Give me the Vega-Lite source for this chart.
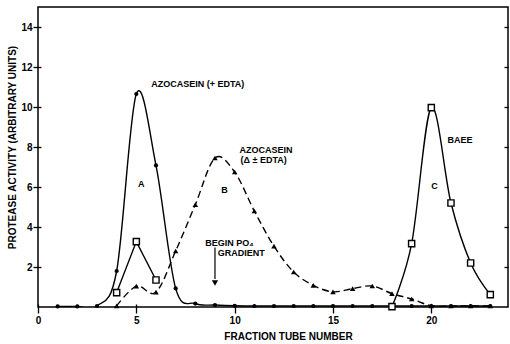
{
  "$schema": "https://vega.github.io/schema/vega-lite/v6.json",
  "width": 470,
  "height": 300,
  "autosize": {"type": "none"},
  "padding": {"left": 38, "top": 7, "right": 2, "bottom": 37},
  "background": "white",
  "config": {
    "view": {"stroke": "#000", "strokeWidth": 1.5},
    "font": "Liberation Sans"
  },
  "datasets": {
    "curves": [
      {"series": "A", "peak": "A", "tube": 1, "activity": 0.03},
      {"series": "A", "peak": "A", "tube": 2, "activity": 0.03},
      {"series": "A", "peak": "A", "tube": 3, "activity": 0.05},
      {"series": "A", "peak": "A", "tube": 4, "activity": 1.8},
      {"series": "A", "peak": "A", "tube": 5, "activity": 10.65},
      {"series": "A", "peak": "A", "tube": 6, "activity": 7.08},
      {"series": "A", "peak": "A", "tube": 7, "activity": 0.93},
      {"series": "A", "peak": "A", "tube": 8, "activity": 0.17},
      {"series": "A", "peak": "A", "tube": 9, "activity": 0.1},
      {"series": "A", "peak": "A", "tube": 10, "activity": 0.06},
      {"series": "A", "peak": "A", "tube": 11, "activity": 0.05},
      {"series": "A", "peak": "A", "tube": 12, "activity": 0.05},
      {"series": "A", "peak": "A", "tube": 13, "activity": 0.05},
      {"series": "A", "peak": "A", "tube": 14, "activity": 0.05},
      {"series": "A", "peak": "A", "tube": 15, "activity": 0.05},
      {"series": "A", "peak": "A", "tube": 16, "activity": 0.05},
      {"series": "A", "peak": "A", "tube": 17, "activity": 0.05},
      {"series": "A", "peak": "A", "tube": 18, "activity": 0.05},
      {"series": "A", "peak": "A", "tube": 19, "activity": 0.05},
      {"series": "A", "peak": "A", "tube": 20, "activity": 0.05},
      {"series": "A", "peak": "A", "tube": 21, "activity": 0.05},
      {"series": "A", "peak": "A", "tube": 22, "activity": 0.05},
      {"series": "A", "peak": "A", "tube": 23, "activity": 0.05},
      {"series": "B", "peak": "B", "tube": 4, "activity": 0.06},
      {"series": "B", "peak": "B", "tube": 5, "activity": 1.04},
      {"series": "B", "peak": "B", "tube": 6, "activity": 0.74},
      {"series": "B", "peak": "B", "tube": 7, "activity": 2.8},
      {"series": "B", "peak": "B", "tube": 8, "activity": 5.12},
      {"series": "B", "peak": "B", "tube": 9, "activity": 7.45},
      {"series": "B", "peak": "B", "tube": 10, "activity": 6.75},
      {"series": "B", "peak": "B", "tube": 11, "activity": 4.8},
      {"series": "B", "peak": "B", "tube": 12, "activity": 3.04},
      {"series": "B", "peak": "B", "tube": 13, "activity": 1.75},
      {"series": "B", "peak": "B", "tube": 14, "activity": 1.08},
      {"series": "B", "peak": "B", "tube": 15, "activity": 0.76},
      {"series": "B", "peak": "B", "tube": 16, "activity": 0.92},
      {"series": "B", "peak": "B", "tube": 17, "activity": 1.05},
      {"series": "B", "peak": "B", "tube": 18, "activity": 0.67},
      {"series": "B", "peak": "B", "tube": 19, "activity": 0.4},
      {"series": "B", "peak": "B", "tube": 20, "activity": 0.06},
      {"series": "B", "peak": "B", "tube": 21, "activity": 0.05},
      {"series": "B", "peak": "B", "tube": 22, "activity": 0.05},
      {"series": "B", "peak": "B", "tube": 23, "activity": 0.05},
      {"series": "C", "peak": "first", "tube": 4, "activity": 0.72},
      {"series": "C", "peak": "first", "tube": 5, "activity": 3.27},
      {"series": "C", "peak": "first", "tube": 6, "activity": 1.35},
      {"series": "C", "peak": "second", "tube": 18, "activity": 0.02},
      {"series": "C", "peak": "second", "tube": 19, "activity": 3.17},
      {"series": "C", "peak": "second", "tube": 20, "activity": 9.97},
      {"series": "C", "peak": "second", "tube": 21, "activity": 5.2},
      {"series": "C", "peak": "second", "tube": 22, "activity": 2.2},
      {"series": "C", "peak": "second", "tube": 23, "activity": 0.62}
    ],
    "labels": [
      {"label": "AZOCASEIN (+ EDTA)", "tube": 5.76, "activity": 11.13},
      {"label": "A", "tube": 5.08, "activity": 6.13},
      {"label": "AZOCASEIN", "tube": 10.25, "activity": 7.83},
      {"label": "(Δ ± EDTA)", "tube": 10.3, "activity": 7.33},
      {"label": "B", "tube": 9.32, "activity": 5.83},
      {"label": "BAEE", "tube": 20.82, "activity": 8.33},
      {"label": "C", "tube": 20.0, "activity": 6.06},
      {"label": "BEGIN PO₄", "tube": 8.5, "activity": 3.2},
      {"label": "GRADIENT", "tube": 9.14, "activity": 2.72}
    ],
    "arrow_shaft": [
      {"tube": 9, "activity": 2.97, "activity_end": 1.4}
    ],
    "arrow_head": [
      {"tube": 9, "activity": 1.2}
    ]
  },
  "layer": [
    {
      "data": {"name": "curves"},
      "encoding": {
        "x": {
          "field": "tube",
          "type": "quantitative",
          "scale": {"domain": [0, 23.9], "nice": false, "zero": false},
          "axis": {
            "title": "FRACTION TUBE NUMBER",
            "values": [0, 5, 10, 15, 20],
            "domain": false,
            "grid": false,
            "offset": -3,
            "tickSize": 9,
            "tickWidth": 1.3,
            "tickColor": "#000",
            "labelFont": "Liberation Sans",
            "labelFontSize": 10,
            "labelFontWeight": "bold",
            "labelColor": "#000",
            "labelPadding": 2,
            "labelFlush": false,
            "titleFont": "Liberation Sans",
            "titleFontSize": 10,
            "titleFontWeight": "bold",
            "titleColor": "#000",
            "titleX": 250,
            "titleY": 35,
            "titleBaseline": "alphabetic"
          }
        },
        "y": {
          "field": "activity",
          "type": "quantitative",
          "scale": {"domain": [0, 15], "nice": false, "zero": false},
          "axis": {
            "title": "PROTEASE ACTIVITY (ARBITRARY UNITS)",
            "values": [2, 4, 6, 8, 10, 12, 14],
            "domain": false,
            "grid": false,
            "offset": -3,
            "tickSize": 8,
            "tickWidth": 1.3,
            "tickColor": "#000",
            "labelFont": "Liberation Sans",
            "labelFontSize": 10,
            "labelFontWeight": "bold",
            "labelColor": "#000",
            "labelPadding": 1,
            "titleFont": "Liberation Sans",
            "titleFontSize": 10,
            "titleFontWeight": "bold",
            "titleColor": "#000",
            "titleAngle": -90,
            "titleX": -26,
            "titleY": 140,
            "titleBaseline": "alphabetic",
            "titleAlign": "center"
          }
        }
      },
      "layer": [
        {
          "transform": [{"filter": "datum.series === 'A'"}],
          "mark": {"type": "line", "interpolate": "cardinal", "tension": 0, "stroke": "#000", "strokeWidth": 1.4, "clip": true},
          "encoding": {}
        },
        {
          "transform": [{"filter": "datum.series === 'B'"}],
          "mark": {"type": "line", "interpolate": "cardinal", "tension": 0, "stroke": "#000", "strokeWidth": 1.4, "strokeDash": [7, 4], "clip": true},
          "encoding": {}
        },
        {
          "transform": [{"filter": "datum.series === 'C' && datum.peak === 'first'"}],
          "mark": {"type": "line", "interpolate": "linear", "stroke": "#000", "strokeWidth": 1.4, "clip": true},
          "encoding": {}
        },
        {
          "transform": [{"filter": "datum.series === 'C' && datum.peak === 'second'"}],
          "mark": {"type": "line", "interpolate": "cardinal", "tension": 0, "stroke": "#000", "strokeWidth": 1.4, "clip": true},
          "encoding": {}
        },
        {
          "transform": [{"filter": "datum.series === 'A'"}],
          "mark": {"type": "point", "shape": "circle", "filled": true, "color": "#000", "size": 18, "opacity": 1}
        },
        {
          "transform": [{"filter": "datum.series === 'B'"}],
          "mark": {"type": "point", "shape": "triangle-up", "filled": true, "color": "#000", "size": 30, "opacity": 1}
        },
        {
          "transform": [{"filter": "datum.series === 'C'"}],
          "mark": {"type": "point", "shape": "square", "filled": true, "fill": "#fff", "stroke": "#000", "strokeWidth": 1.4, "size": 38, "opacity": 1}
        },
        {
          "data": {"name": "labels"},
          "mark": {"type": "text", "align": "left", "baseline": "middle", "font": "Liberation Sans", "fontSize": 9, "fontWeight": "bold", "color": "#000"},
          "encoding": {"text": {"field": "label"}}
        },
        {
          "data": {"name": "arrow_shaft"},
          "mark": {"type": "rule", "stroke": "#000", "strokeWidth": 1.2},
          "encoding": {"y2": {"field": "activity_end"}}
        },
        {
          "data": {"name": "arrow_head"},
          "mark": {"type": "point", "shape": "triangle-down", "filled": true, "color": "#000", "size": 40, "opacity": 1}
        }
      ]
    },
    {
      "data": {"name": "arrow_head"},
      "mark": {"type": "point", "opacity": 0},
      "encoding": {
        "y": {
          "field": "activity",
          "type": "quantitative",
          "scale": {"domain": [0, 15], "nice": false, "zero": false},
          "axis": {
            "orient": "right",
            "title": null,
            "values": [2, 4, 6, 8, 10, 12, 14],
            "domain": false,
            "grid": false,
            "labels": false,
            "offset": -4,
            "tickSize": 4,
            "tickWidth": 1.3,
            "tickColor": "#000"
          }
        }
      }
    }
  ],
  "resolve": {"axis": {"y": "independent"}}
}
